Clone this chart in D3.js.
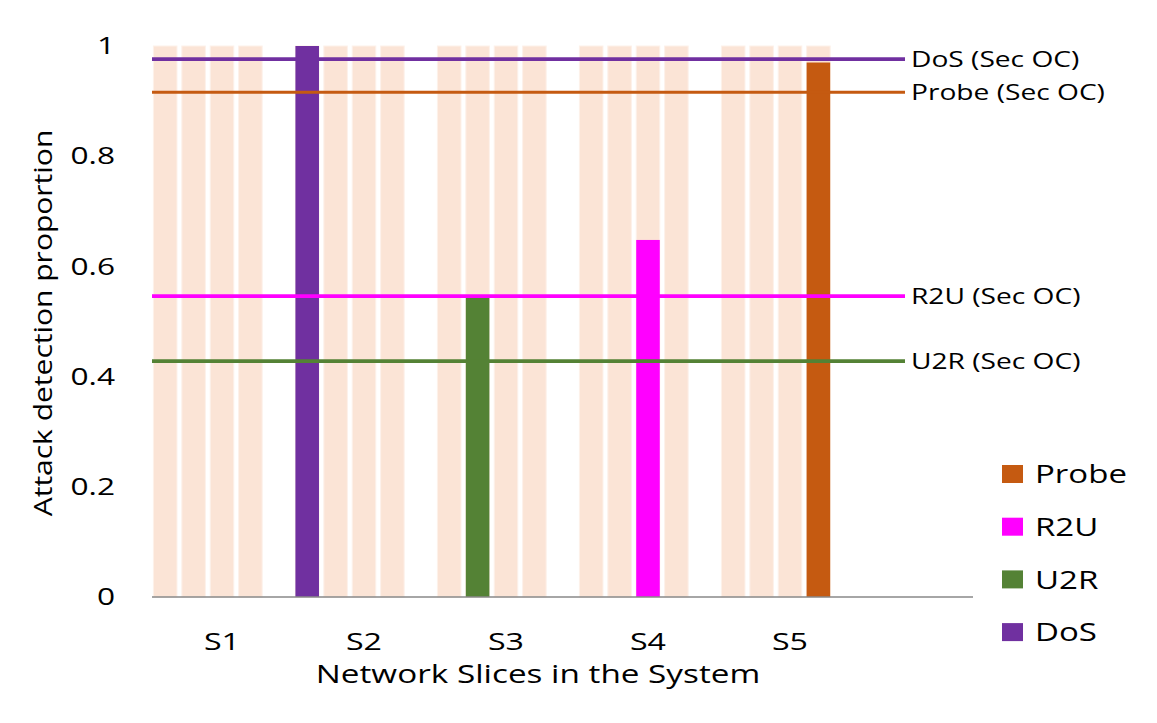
<!DOCTYPE html>
<html>
<head>
<meta charset="utf-8">
<script src="https://cdn.jsdelivr.net/npm/d3@7"></script>
<style>
  body { margin: 0; background: #fff; }
  svg text { font-family: "Open Sans", sans-serif; fill: #000; }
</style>
</head>
<body>
<svg width="1157" height="723"></svg>
<script>
var slices = ["S1", "S2", "S3", "S4", "S5"];
var seriesNames = ["DoS", "U2R", "R2U", "Probe"];
var dosValues = [0, 1.0, 0, 0, 0];
var u2rValues = [0, 0, 0.544, 0, 0];
var r2uValues = [0, 0, 0, 0.648, 0];
var probeValues = [0, 0, 0, 0, 0.97];
var backgroundValue = 1;
var secOCNames = ["DoS (Sec OC)", "Probe (Sec OC)", "R2U (Sec OC)", "U2R (Sec OC)"];
var secOCValues = [0.976, 0.916, 0.546, 0.428];
var legendOrder = ["Probe", "R2U", "U2R", "DoS"];
var yTicks = [0, 0.2, 0.4, 0.6, 0.8, 1];

var color = d3.scaleOrdinal()
    .domain(seriesNames)
    .range(["#7030A0", "#548235", "#FF00FF", "#C55A11"]);

var svg = d3.select("svg");

var margin = {left: 151, right: 296, top: 46, bottom: 126};
var width = +svg.attr("width"), height = +svg.attr("height");

var y = d3.scaleLinear().domain([0, 1]).range([height - margin.bottom, margin.top]);

var x0 = d3.scaleBand()
    .domain(slices)
    .range([margin.left, margin.left + 142 * slices.length]);

// five slots per slice, the last one stays empty
var x1 = d3.scaleBand()
    .domain(seriesNames.concat(["_gap"]))
    .range([0, x0.bandwidth()])
    .paddingInner(0.17)
    .paddingOuter(0.085);

var valuesBySeries = {DoS: dosValues, U2R: u2rValues, R2U: r2uValues, Probe: probeValues};

var rows = [];
slices.forEach(function(s, i) {
  seriesNames.forEach(function(k) {
    rows.push({slice: s, key: k, value: valuesBySeries[k][i]});
  });
});

// the reference font runs wide, so text gets a horizontal stretch
function place(sel, x, yy, sx) {
  sel.attr("transform", "translate(" + x + "," + yy + ") scale(" + sx + ",1)");
}

// peach background bars
svg.append("g")
  .selectAll("rect")
  .data(rows)
  .enter().append("rect")
    .attr("x", function(d) { return x0(d.slice) + x1(d.key); })
    .attr("y", y(backgroundValue))
    .attr("width", x1.bandwidth())
    .attr("height", y(0) - y(backgroundValue))
    .attr("fill", "#FBE4D6")
    .attr("stroke", "#fdf1ea")
    .attr("stroke-width", 1);

// data bars
svg.append("g")
  .selectAll("rect")
  .data(rows.filter(function(d) { return d.value > 0; }))
  .enter().append("rect")
    .attr("x", function(d) { return x0(d.slice) + x1(d.key); })
    .attr("y", function(d) { return y(d.value); })
    .attr("width", x1.bandwidth())
    .attr("height", function(d) { return y(0) - y(d.value); })
    .attr("fill", function(d) { return color(d.key); });

// x axis line
svg.append("line")
    .attr("x1", 152).attr("x2", 973)
    .attr("y1", y(0)).attr("y2", y(0))
    .attr("stroke", "#898989")
    .attr("stroke-width", 1.5);

// Sec OC reference lines
var lineEnd = 905;
var secOC = secOCNames.map(function(n, i) {
  return {name: n, key: n.split(" ")[0], value: secOCValues[i]};
});

svg.append("g")
  .selectAll("line")
  .data(secOC)
  .enter().append("line")
    .attr("x1", 152).attr("x2", lineEnd)
    .attr("y1", function(d) { return y(d.value); })
    .attr("y2", function(d) { return y(d.value); })
    .attr("stroke", function(d) { return color(d.key); })
    .attr("stroke-width", function(d) { return d.key == "Probe" ? 3 : 3.8; });

svg.append("g")
  .selectAll("text")
  .data(secOC)
  .enter().append("text")
    .attr("transform", function(d) {
      return "translate(" + (lineEnd + 6) + "," + y(d.value) + ") scale(1.28,1)";
    })
    .attr("dy", "0.35em")
    .style("font-size", "22px")
    .text(function(d) { return d.name; });

// y axis
var yAxis = svg.append("g")
    .attr("transform", "translate(" + (margin.left - 36) + ",0)")
    .call(d3.axisLeft(y).tickValues(yTicks).tickSize(0).tickPadding(0)
      .tickFormat(function(d) { return d3.format("~g")(d); }));
yAxis.select(".domain").remove();
yAxis.selectAll("text")
    .attr("transform", "scale(1.32,1)")
    .style("font-size", "24px")
    .style("font-family", "Open Sans, sans-serif")
    .attr("fill", "#000");

// x labels
svg.append("g")
  .selectAll("text")
  .data(slices)
  .enter().append("text")
    .attr("transform", function(d) {
      return "translate(" + (x0(d) + x0.bandwidth() / 2) + ",650) scale(1.34,1)";
    })
    .attr("text-anchor", "middle")
    .style("font-size", "24px")
    .text(function(d) { return d; });

// axis titles
svg.append("text")
    .call(place, 538, 683, 1.28)
    .attr("text-anchor", "middle")
    .style("font-size", "26px")
    .text("Network Slices in the System");

svg.append("text")
    .attr("transform", "translate(52,323) rotate(-90) scale(1.2,1)")
    .attr("text-anchor", "middle")
    .style("font-size", "25px")
    .text("Attack detection proportion");

// legend
var legend = svg.append("g")
  .selectAll("g")
  .data(legendOrder)
  .enter().append("g")
    .attr("transform", function(d, i) { return "translate(1002," + (465 + i * 52.7) + ")"; });

legend.append("rect")
    .attr("width", 21)
    .attr("height", 18)
    .attr("fill", function(d) { return color(d); });

legend.append("text")
    .attr("transform", "translate(33,9) scale(1.27,1)")
    .attr("dy", "0.35em")
    .style("font-size", "26px")
    .text(function(d) { return d; });
</script>
</body>
</html>
